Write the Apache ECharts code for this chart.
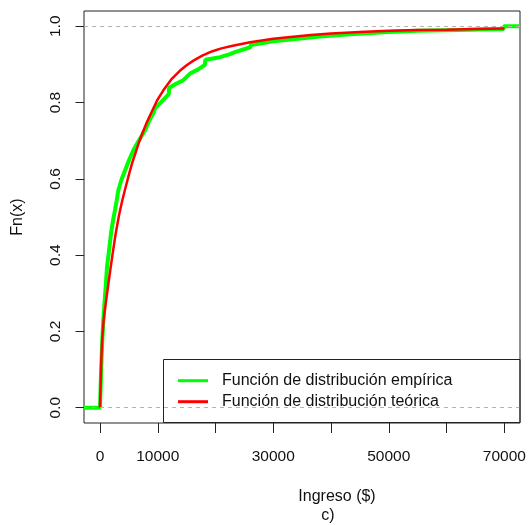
<!DOCTYPE html>
<html>
<head>
<meta charset="utf-8">
<script src="https://cdn.jsdelivr.net/npm/echarts@6/dist/echarts.min.js"></script>
<style>html,body{margin:0;padding:0;background:#fff}#c{width:529px;height:525px}</style>
</head>
<body>
<div id="c"></div>
<script>
const empiricalX = [-2770, 26, 26, 100, 200, 300, 399, 600, 815, 1000, 1213, 1550, 1906, 2300, 2600, 2894, 3172, 3700, 4333, 5000, 5771, 6700, 7799, 8500, 9237, 9532, 10500, 11900, 11950, 13000, 14385, 15598, 17000, 18150, 18250, 20797, 22500, 23500, 23600, 25997, 26100, 28500, 30000, 34662, 38000, 43300, 50000, 55000, 62000, 69900, 69920, 72715];
const empiricalY = [0, 0, 0.01, 0.05, 0.10, 0.14, 0.177, 0.235, 0.282, 0.32, 0.369, 0.41, 0.457, 0.495, 0.518, 0.544, 0.570, 0.597, 0.622, 0.648, 0.675, 0.70, 0.727, 0.752, 0.772, 0.785, 0.80, 0.822, 0.838, 0.848, 0.858, 0.876, 0.887, 0.899, 0.912, 0.919, 0.927, 0.933, 0.938, 0.945, 0.951, 0.957, 0.961, 0.968, 0.973, 0.979, 0.985, 0.988, 0.990, 0.993, 1.0, 1.0];
// Theoretical CDF
const theoreticalX = [0, 40, 87, 150, 225, 320, 430, 600, 800, 1161, 1500, 1854, 2300, 2721, 3300, 3865, 4400, 5078, 5600, 6239, 6800, 7400, 8100, 8960, 9900, 10971, 12300, 13865, 15000, 16170, 17700, 19359, 21000, 23000, 26000, 30000, 33000, 36500, 40000, 45000, 50000, 55000, 60000, 65000, 70000];
const theoreticalY = [0, 0.025, 0.046, 0.085, 0.125, 0.16, 0.19, 0.225, 0.25, 0.292, 0.33, 0.369, 0.415, 0.457, 0.505, 0.544, 0.576, 0.615, 0.643, 0.672, 0.698, 0.722, 0.748, 0.776, 0.806, 0.832, 0.860, 0.884, 0.898, 0.910, 0.923, 0.934, 0.942, 0.949, 0.958, 0.967, 0.972, 0.977, 0.981, 0.985, 0.988, 0.990, 0.991, 0.993, 0.994];
const xTicks = [0, 10000, 20000, 30000, 40000, 50000, 60000, 70000];
const xLabels = [0, 10000, 30000, 50000, 70000];
const yTicks = [0, 0.2, 0.4, 0.6, 0.8, 1.0];
const refLines = [0, 1];
const seriesNames = ['Función de distribución empírica', 'Función de distribución teórica'];

const empData = empiricalX.map((x, i) => [x, empiricalY[i]]);
const theoData = theoreticalX.map((x, i) => [x, theoreticalY[i]]);

const chart = echarts.init(document.getElementById('c'), null, {renderer: 'canvas'});
const FONT = 'Liberation Sans, Arial, Helvetica, sans-serif';
chart.setOption({
  animation: false,
  backgroundColor: '#fff',
  grid: {left: 84, right: 9, top: 11, bottom: 102, show: true, borderColor: '#222', borderWidth: 1, backgroundColor: 'transparent'},
  xAxis: {
    type: 'value', min: -2770, max: 72715,
    splitLine: {show: false},
    axisLine: {show: false, onZero: false},
    axisTick: {show: true, customValues: xTicks, length: 10, lineStyle: {color: '#222'}},
    axisLabel: {customValues: xLabels, margin: 26, fontSize: 15.5, color: '#111', fontFamily: FONT, formatter: v => String(v)}
  },
  yAxis: {
    type: 'value', min: -0.04, max: 1.04,
    name: 'Fn(x)', nameLocation: 'middle', nameGap: 58, nameRotate: 90,
    nameTextStyle: {fontSize: 16, color: '#111', fontFamily: FONT},
    splitLine: {show: false},
    axisLine: {show: false, onZero: false},
    axisTick: {show: true, customValues: yTicks, length: 8.5, lineStyle: {color: '#222'}},
    axisLabel: {customValues: yTicks, rotate: 90, margin: 20, fontSize: 15.5, color: '#111', fontFamily: FONT, formatter: v => v.toFixed(1)}
  },
  legend: {
    data: seriesNames,
    orient: 'vertical', left: 178, top: 372.7, padding: 0,
    itemWidth: 30, itemHeight: 3, itemGap: 5, icon: 'rect',
    selectedMode: false,
    textStyle: {fontSize: 16, lineHeight: 16, color: '#111', fontFamily: FONT, padding: [0, 0, 0, 9]}
  },
  graphic: [
    {type: 'rect', shape: {x: 163.5, y: 359.5, width: 356.5, height: 63}, style: {fill: 'none', stroke: '#222', lineWidth: 1}, z: 10},
    {type: 'text', x: 337, y: 497, style: {text: 'Ingreso ($)', fontSize: 16, fontFamily: FONT, fill: '#111', textAlign: 'center', textVerticalAlign: 'middle'}},
    {type: 'text', x: 328, y: 516, style: {text: 'c)', fontSize: 16, fontFamily: FONT, fill: '#111', textAlign: 'center', textVerticalAlign: 'middle'}}
  ],
  series: [
    {
      name: 'ref', type: 'line', data: [], z: 1,
      markLine: {silent: true, symbol: 'none', label: {show: false},
        lineStyle: {color: '#b3b3b3', type: [4, 4], width: 1},
        data: refLines.map(v => ({yAxis: v}))}
    },
    {
      name: seriesNames[0], type: 'line', data: empData, showSymbol: false,
      lineStyle: {color: '#00ff00', width: 4}, itemStyle: {color: '#00ff00'}, z: 3
    },
    {
      name: seriesNames[1], type: 'line', data: theoData, showSymbol: false,
      lineStyle: {color: '#ff0000', width: 2.5}, itemStyle: {color: '#ff0000'}, z: 4
    }
  ]
});
</script>
</body>
</html>
